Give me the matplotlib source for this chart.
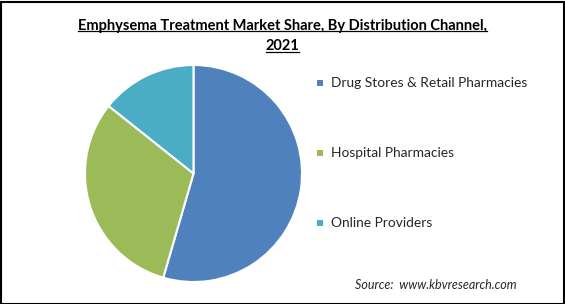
import matplotlib
matplotlib.use('Agg')
import matplotlib.pyplot as plt
from matplotlib.lines import Line2D
from matplotlib.patches import Rectangle

# Distribution channel shares, 2021
channels = ['Drug Stores & Retail Pharmacies', 'Hospital Pharmacies', 'Online Providers']
shares = [54.5, 31.2, 14.3]
colors = ['#4F81BD', '#9BBB59', '#4BACC6']

title_lines = ['Emphysema Treatment Market Share, By Distribution Channel,', '2021']
source = 'Source:  www.kbvresearch.com'

W, H = 565, 304
fig = plt.figure(figsize=(W / 100, H / 100), dpi=100)
fig.patch.set_facecolor('white')

# pie axes: centre ~ (193.5, 173.5), radius ~108.5 px
r = 108.5
cx, cy = 193.5, 173.5
ax = fig.add_axes([(cx - r) / W, (H - cy - r) / H, 2 * r / W, 2 * r / H])
ax.pie(shares, colors=colors, startangle=90, counterclock=False,
       wedgeprops=dict(edgecolor='white', linewidth=1.5))
ax.set_aspect('equal')
ax.set_xlim(-1, 1)
ax.set_ylim(-1, 1)
ax.axis('off')

# title, bold and underlined
font = ['Lato', 'DejaVu Sans']
renderer = fig.canvas.get_renderer()
for i, (line, y) in enumerate(zip(title_lines, [26, 46])):
    t = fig.text(0.5, 1 - y / H, line, ha='center', va='center',
                 fontsize=10.5, fontweight='bold', family=font, color='black')
    bb = t.get_window_extent(renderer=renderer)
    uy = bb.y0 + 1
    if i == 0:
        uy = bb.y0 + 2
    fig.add_artist(Line2D([bb.x0 / W, bb.x1 / W], [uy / H, uy / H],
                          transform=fig.transFigure, color='black', linewidth=0.9))

# legend
for name, col, y in zip(channels, colors, [83, 153, 223]):
    fig.add_artist(Rectangle(((317) / W, (H - y - 3) / H), 6 / W, 6 / H,
                             transform=fig.transFigure, facecolor=col, edgecolor='none'))
    fig.text(331 / W, 1 - y / H, name, ha='left', va='center',
             fontsize=9.9, family=font, color='#262626')

fig.text(517 / W, 1 - 285 / H, source, ha='right', va='center',
         fontsize=9, style='italic', family=font, color='#262626')

# outer border
fig.add_artist(Rectangle((0.5 / W, 0.5 / H), (W - 2) / W, (H - 2) / H,
                         transform=fig.transFigure, facecolor='none',
                         edgecolor='black', linewidth=1.5))

fig.savefig('out.png', dpi=100)
